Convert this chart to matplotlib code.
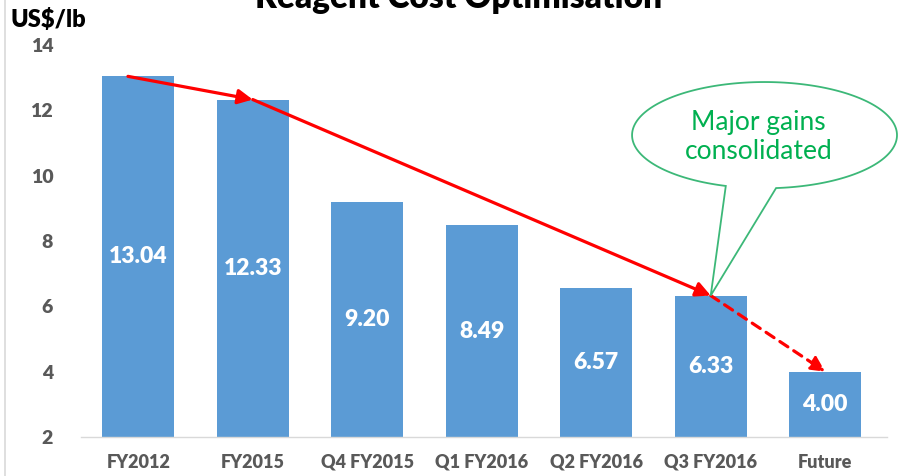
import numpy as np
import matplotlib.pyplot as plt
from matplotlib.path import Path
from matplotlib.patches import PathPatch
from matplotlib.lines import Line2D

# Data
categories = ['FY2012', 'FY2015', 'Q4 FY2015', 'Q1 FY2016', 'Q2 FY2016', 'Q3 FY2016', 'Future']
costs = [13.04, 12.33, 9.20, 8.49, 6.57, 6.33, 4.00]
value_labels = ['13.04', '12.33', '9.20', '8.49', '6.57', '6.33', '4.00']
y_ticks = [2, 4, 6, 8, 10, 12, 14]

plt.rcParams['font.family'] = ['Lato', 'DejaVu Sans']

fig = plt.figure(figsize=(9, 4.76), dpi=100)
ax = fig.add_axes([0.09, 0.0819, 0.8956, 0.8236])

base = 2
x = np.arange(len(categories))
heights = [c - base for c in costs]
ax.bar(x, heights, bottom=base, width=0.63, color='#5B9BD5', zorder=2)

# value labels in middle of bars
for xi, c, lab in zip(x, costs, value_labels):
    ax.text(xi, (c + base) / 2, lab, color='white', fontsize=16.5, fontweight='heavy',
            ha='center', va='center', zorder=3)

ax.set_xlim(-0.5, 6.54)
ax.set_ylim(2, 14)
ax.set_yticks(y_ticks)
ax.set_xticks(x)
ax.set_xticklabels(categories)
ax.tick_params(axis='both', length=0, labelsize=13, labelcolor='#595959')
ax.tick_params(axis='y', pad=20, labelsize=14)
ax.tick_params(axis='x', pad=12)
for lab in ax.get_xticklabels() + ax.get_yticklabels():
    lab.set_fontweight('heavy')
for s in ['top', 'right', 'left']:
    ax.spines[s].set_visible(False)
ax.spines['bottom'].set_color('#D9D9D9')
ax.spines['bottom'].set_linewidth(1)

# red trend arrows
arrow_kw = dict(arrowstyle='-|>', color='#FF0000', lw=2.3, mutation_scale=22,
                shrinkA=0, shrinkB=0)
ax.annotate('', xy=(1, costs[1]), xytext=(-0.09, costs[0]), arrowprops=arrow_kw, zorder=4)
ax.annotate('', xy=(5, costs[5]), xytext=(1, costs[1]), arrowprops=arrow_kw, zorder=4)
dashed_kw = dict(arrow_kw, linestyle=(0, (3, 2.2)))
ax.annotate('', xy=(6, costs[6]), xytext=(5, costs[5]), arrowprops=dashed_kw, zorder=4)

# speech bubble callout
cx, cy, a, b = 5.47, 11.24, 1.157, 1.626
t = np.radians(np.linspace(-85, 253, 200))
pts = list(zip(cx + a * np.cos(t), cy + b * np.sin(t)))
pts.append((5, costs[5]))
pts.append(pts[0])
codes = [Path.MOVETO] + [Path.LINETO] * (len(pts) - 2) + [Path.CLOSEPOLY]
bubble = PathPatch(Path(pts, codes), facecolor='white', edgecolor='#3CB878',
                   lw=1.3, zorder=5, clip_on=False)
ax.add_patch(bubble)
ax.text(cx - 0.05, cy - 0.05, 'Major gains\nconsolidated', color='#00B050', fontsize=19,
        ha='center', va='center', linespacing=1.2, zorder=6)

# title (cut off at the top) and unit label
fig.text(0.509, 1 - 8 / 476, 'Reagent Cost Optimisation', fontsize=24,
         fontweight='heavy', ha='center', va='baseline')
fig.text(11 / 900, 1 - 27 / 476, 'US$/lb', fontsize=17, fontweight='heavy',
         ha='left', va='baseline')

# left border line
fig.add_artist(Line2D([5 / 900, 5 / 900], [0, 1], color='#D9D9D9', lw=1.2))

fig.savefig('out.png', dpi=100)
